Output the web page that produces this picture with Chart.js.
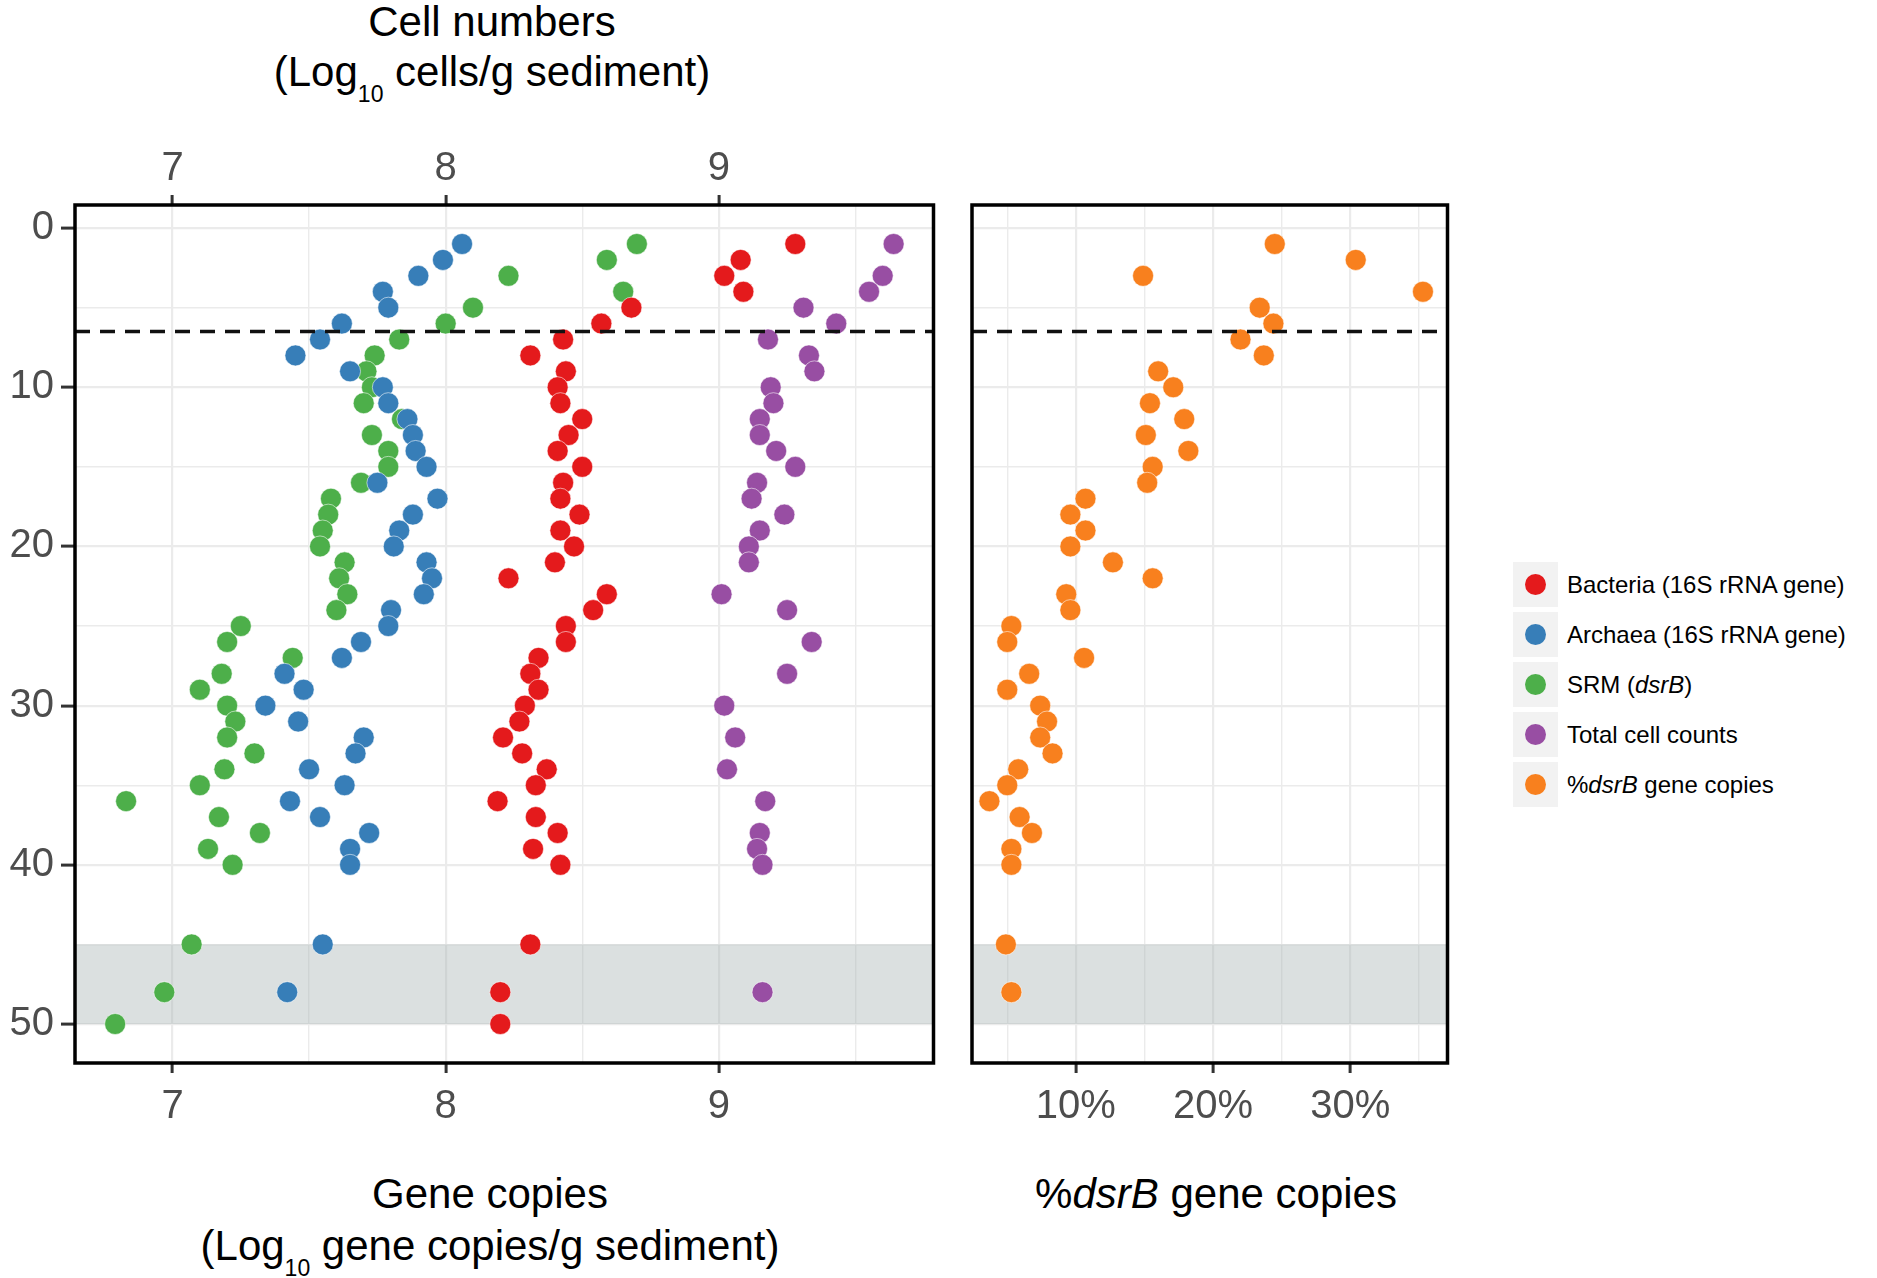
<!DOCTYPE html>
<html>
<head>
<meta charset="utf-8">
<script src="https://cdn.jsdelivr.net/npm/chart.js@4.4.1/dist/chart.umd.min.js"></script>
<style>
  html, body { margin: 0; padding: 0; background: #fff; }
  body { width: 1877px; height: 1278px; position: relative; overflow: hidden;
         font-family: "Liberation Sans", Helvetica, Arial, sans-serif; color: #000; }
  canvas { position: absolute; }
  .title { position: absolute; font-size: 42px; line-height: 46px; white-space: nowrap; transform: translateX(-50%); }
  .title sub { font-size: 23px; line-height: 0; vertical-align: -16px; }
  #legend { position: absolute; left: 1513px; top: 562px; }
  .row { display: flex; align-items: center; height: 45px; margin-bottom: 5px; }
  .key { width: 45px; height: 45px; background: #f2f2f2; position: relative; margin-right: 9px; }
  .dot { position: absolute; left: 12px; top: 12px; width: 21px; height: 21px; border-radius: 50%; }
  .lab { font-size: 24px; white-space: nowrap; }
</style>
</head>
<body>
<canvas id="cellChart" width="945" height="1030" style="left:0px;top:120px"></canvas>
<canvas id="pctChart" width="499" height="1030" style="left:960px;top:120px"></canvas>

<div class="title" style="left:492px;top:-1px">Cell numbers</div>
<div class="title" style="left:492px;top:49px">(Log<sub>10</sub> cells/g sediment)</div>
<div class="title" style="left:490px;top:1171px">Gene copies</div>
<div class="title" style="left:490px;top:1223px">(Log<sub>10</sub> gene copies/g sediment)</div>
<div class="title" style="left:1216px;top:1171px">%<i>dsrB</i> gene copies</div>
<div id="legend"></div>

<script>
// sediment depth of each sample (y axis, shared by every series)
const depths = [1, 2, 3, 4, 5, 6, 7, 8, 9, 10, 11, 12, 13, 14, 15, 16, 17, 18, 19, 20,
                21, 22, 23, 24, 25, 26, 27, 28, 29, 30, 31, 32, 33, 34, 35, 36, 37, 38, 39, 40,
                45, 48, 50];

// log10 gene copies / cells per g sediment (null = not measured)
const bacteria = [9.28, 9.08, 9.02, 9.09, 8.68, 8.57, 8.43, 8.31, 8.44, 8.41, 8.42, 8.50, 8.45, 8.41, 8.50, 8.43, 8.42, 8.49, 8.42, 8.47,
                  8.40, 8.23, 8.59, 8.54, 8.44, 8.44, 8.34, 8.31, 8.34, 8.29, 8.27, 8.21, 8.28, 8.37, 8.33, 8.19, 8.33, 8.41, 8.32, 8.42,
                  8.31, 8.20, 8.20];
const archaea = [8.06, 7.99, 7.90, 7.77, 7.79, 7.62, 7.54, 7.45, 7.65, 7.77, 7.79, 7.86, 7.88, 7.89, 7.93, 7.75, 7.97, 7.88, 7.83, 7.81,
                 7.93, 7.95, 7.92, 7.80, 7.79, 7.69, 7.62, 7.41, 7.48, 7.34, 7.46, 7.70, 7.67, 7.50, 7.63, 7.43, 7.54, 7.72, 7.65, 7.65,
                 7.55, 7.42, null];
const srm = [8.70, 8.59, 8.23, 8.65, 8.10, 8.00, 7.83, 7.74, 7.71, 7.73, 7.70, 7.84, 7.73, 7.79, 7.79, 7.69, 7.58, 7.57, 7.55, 7.54,
             7.63, 7.61, 7.64, 7.60, 7.25, 7.20, 7.44, 7.18, 7.10, 7.20, 7.23, 7.20, 7.30, 7.19, 7.10, 6.83, 7.17, 7.32, 7.13, 7.22,
             7.07, 6.97, 6.79];
const totalCells = [9.64, null, 9.60, 9.55, 9.31, 9.43, 9.18, 9.33, 9.35, 9.19, 9.20, 9.15, 9.15, 9.21, 9.28, 9.14, 9.12, 9.24, 9.15, 9.11,
                    9.11, null, 9.01, 9.25, null, 9.34, null, 9.25, null, 9.02, null, 9.06, null, 9.03, null, 9.17, null, 9.15, 9.14, 9.16,
                    null, 9.16, null];
// % dsrB gene copies
const pctDsrB = [24.5, 30.4, 14.9, 35.3, 23.4, 24.4, 22.0, 23.7, 16.0, 17.1, 15.4, 17.9, 15.1, 18.2, 15.6, 15.2, 10.7, 9.6, 10.7, 9.6,
                 12.7, 15.6, 9.3, 9.6, 5.3, 5.0, 10.6, 6.6, 5.0, 7.4, 7.9, 7.4, 8.3, 5.8, 5.0, 3.7, 5.9, 6.8, 5.3, 5.3,
                 4.9, 5.3, null];

const seriesNames = ["Bacteria (16S rRNA gene)", "Archaea (16S rRNA gene)", "SRM (<i>dsrB</i>)", "Total cell counts", "%<i>dsrB</i> gene copies"];
const seriesColors = ["#E41A1C", "#377EB8", "#4DAF4A", "#984EA3", "#F8801E"];

const depthTicks = [0, 5, 10, 15, 20, 25, 30, 35, 40, 45, 50];
const logTicks = [7, 7.5, 8, 8.5, 9, 9.5];
const pctTicks = [5, 10, 15, 20, 25, 30, 35];

const smtzDepth = 6.5;      // dashed line
const bandDepths = [45, 50]; // shaded interval

const FONT = "'Liberation Sans', Helvetica, Arial, sans-serif";
Chart.defaults.font.family = FONT;

function points(values) {
  return depths.map((d, i) => ({ x: values[i], y: d })).filter(p => p.x !== null);
}

function dataset(label, values, color) {
  return {
    label,
    data: points(values),
    backgroundColor: color,
    borderColor: "rgba(255,255,255,0.55)",
    borderWidth: 1,
    pointRadius: 10.5,
    pointHoverRadius: 10.5
  };
}

const panelDecor = {
  id: "panelDecor",
  beforeDatasetsDraw(chart) {
    const { ctx, chartArea: a, scales: { y } } = chart;
    const y0 = y.getPixelForValue(bandDepths[0]);
    const y1 = y.getPixelForValue(bandDepths[1]);
    ctx.save();
    ctx.fillStyle = "rgba(170,182,182,0.42)";
    ctx.fillRect(a.left, y0, a.right - a.left, y1 - y0);
    ctx.restore();
  },
  afterDatasetsDraw(chart) {
    const { ctx, chartArea: a, scales: { y } } = chart;
    const yl = y.getPixelForValue(smtzDepth);
    ctx.save();
    ctx.strokeStyle = "#111";
    ctx.lineWidth = 3.5;
    ctx.setLineDash([15, 10]);
    ctx.beginPath();
    ctx.moveTo(a.left, yl);
    ctx.lineTo(a.right, yl);
    ctx.stroke();
    ctx.setLineDash([]);
    ctx.strokeStyle = "#000";
    ctx.lineWidth = 3.5;
    ctx.strokeRect(a.left, a.top, a.right - a.left, a.bottom - a.top);
    ctx.restore();
  }
};

const isMajor = (v, step) => Math.abs(v / step - Math.round(v / step)) < 1e-6;

function xAxis(position, min, max, tickVals, step, fmt, height, pad) {
  return {
    type: "linear",
    position,
    min, max,
    afterBuildTicks: s => { s.ticks = tickVals.map(v => ({ value: v })); },
    afterFit: s => { s.height = height; },
    border: { display: false },
    grid: {
      drawOnChartArea: position === "bottom",
      color: "#ebebeb",
      lineWidth: c => isMajor(c.tick.value, step) ? 2.2 : 1.4,
      tickLength: 10,
      tickWidth: 3,
      tickColor: c => isMajor(c.tick.value, step) ? "#333" : "rgba(0,0,0,0)"
    },
    ticks: {
      autoSkip: false,
      maxRotation: 0,
      padding: pad,
      color: "#4d4d4d",
      font: { size: 40 },
      callback: v => isMajor(v, step) ? fmt(v) : ""
    }
  };
}

function yAxis(width, showLabels) {
  return {
    type: "linear",
    reverse: true,
    min: -1.45,
    max: 52.45,
    afterBuildTicks: s => { s.ticks = depthTicks.map(v => ({ value: v })); },
    afterFit: s => { s.width = width; },
    border: { display: false },
    grid: {
      color: "#ebebeb",
      lineWidth: c => isMajor(c.tick.value, 10) ? 2.2 : 1.4,
      drawTicks: showLabels,
      tickLength: 14,
      tickWidth: 3,
      tickColor: c => isMajor(c.tick.value, 10) ? "#333" : "rgba(0,0,0,0)"
    },
    ticks: {
      display: showLabels,
      autoSkip: false,
      padding: 7,
      color: "#4d4d4d",
      font: { size: 40 },
      callback: v => isMajor(v, 10) ? String(v) : ""
    }
  };
}

const baseOptions = {
  responsive: false,
  animation: false,
  events: [],
  plugins: { legend: { display: false }, tooltip: { enabled: false } }
};

new Chart(document.getElementById("cellChart"), {
  type: "scatter",
  data: {
    datasets: [
      dataset(seriesNames[0], bacteria, seriesColors[0]),
      dataset(seriesNames[1], archaea, seriesColors[1]),
      dataset(seriesNames[2], srm, seriesColors[2]),
      dataset(seriesNames[3], totalCells, seriesColors[3])
    ]
  },
  options: {
    ...baseOptions,
    layout: { padding: { left: 0, right: 10, top: 0, bottom: 0 } },
    scales: {
      x: xAxis("bottom", 6.643, 9.786, logTicks, 1, v => String(v), 87, 10),
      x2: xAxis("top", 6.643, 9.786, logTicks, 1, v => String(v), 85, 2),
      y: yAxis(75, true)
    }
  },
  plugins: [panelDecor]
});

new Chart(document.getElementById("pctChart"), {
  type: "scatter",
  data: {
    datasets: [dataset(seriesNames[4], pctDsrB, seriesColors[4])]
  },
  options: {
    ...baseOptions,
    layout: { padding: { left: 0, right: 10, top: 85, bottom: 0 } },
    scales: {
      x: xAxis("bottom", 2.43, 37.09, pctTicks, 10, v => v + "%", 87, 10),
      y: yAxis(12, false)
    }
  },
  plugins: [panelDecor]
});

// legend
const legend = document.getElementById("legend");
seriesNames.forEach((name, i) => {
  const row = document.createElement("div");
  row.className = "row";
  row.innerHTML = '<div class="key"><span class="dot" style="background:' + seriesColors[i] + '"></span></div>' +
                  '<div class="lab">' + name + '</div>';
  legend.appendChild(row);
});
</script>
</body>
</html>
